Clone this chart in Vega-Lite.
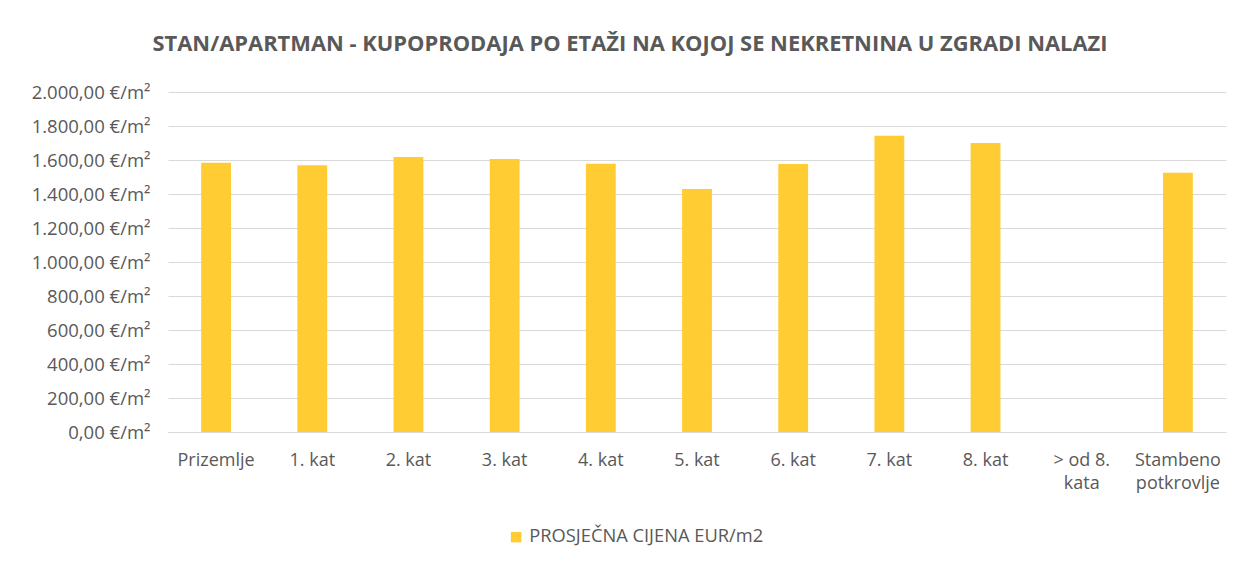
{
  "$schema": "https://vega.github.io/schema/vega-lite/v6.json",
  "width": 1058,
  "height": 340,
  "autosize": {"type": "none"},
  "padding": {"left": 168, "top": 92, "right": 26, "bottom": 136},
  "background": "white",
  "title": {
    "text": "STAN/APARTMAN - KUPOPRODAJA PO ETAŽI NA KOJOJ SE NEKRETNINA U ZGRADI NALAZI",
    "font": "Open Sans",
    "fontSize": 21.9,
    "fontWeight": "bold",
    "color": "#595959",
    "anchor": "middle",
    "dx": -67,
    "offset": 27
  },
  "data": {
    "values": [
      {"kat": "Prizemlje", "cijena": 1584, "serija": "PROSJEČNA CIJENA EUR/m2"},
      {"kat": "1. kat", "cijena": 1569, "serija": "PROSJEČNA CIJENA EUR/m2"},
      {"kat": "2. kat", "cijena": 1618, "serija": "PROSJEČNA CIJENA EUR/m2"},
      {"kat": "3. kat", "cijena": 1606, "serija": "PROSJEČNA CIJENA EUR/m2"},
      {"kat": "4. kat", "cijena": 1578, "serija": "PROSJEČNA CIJENA EUR/m2"},
      {"kat": "5. kat", "cijena": 1429, "serija": "PROSJEČNA CIJENA EUR/m2"},
      {"kat": "6. kat", "cijena": 1576, "serija": "PROSJEČNA CIJENA EUR/m2"},
      {"kat": "7. kat", "cijena": 1743, "serija": "PROSJEČNA CIJENA EUR/m2"},
      {"kat": "8. kat", "cijena": 1700, "serija": "PROSJEČNA CIJENA EUR/m2"},
      {"kat": "> od 8. kata", "cijena": null, "serija": "PROSJEČNA CIJENA EUR/m2"},
      {"kat": "Stambeno potkrovlje", "cijena": 1525, "serija": "PROSJEČNA CIJENA EUR/m2"}
    ]
  },
  "mark": {"type": "bar"},
  "encoding": {
    "x": {
      "field": "kat",
      "type": "nominal",
      "sort": null,
      "scale": {
        "domain": ["Prizemlje", "1. kat", "2. kat", "3. kat", "4. kat", "5. kat", "6. kat", "7. kat", "8. kat", "> od 8. kata", "Stambeno potkrovlje"],
        "paddingInner": 0.69,
        "paddingOuter": 0.345
      },
      "axis": {
        "title": null,
        "labelAngle": 0,
        "ticks": false,
        "domainColor": "#D9D9D9",
        "domainWidth": 1,
        "labelFont": "Open Sans",
        "labelFontSize": 18,
        "labelColor": "#595959",
        "labelPadding": 33,
        "labelBaseline": "alphabetic",
        "labelLineHeight": 23,
        "labelExpr": "datum.value == '> od 8. kata' ? ['> od 8.', 'kata'] : datum.value == 'Stambeno potkrovlje' ? ['Stambeno', 'potkrovlje'] : datum.value"
      }
    },
    "y": {
      "field": "cijena",
      "type": "quantitative",
      "scale": {"domain": [0, 2000]},
      "axis": {
        "title": null,
        "values": [0, 200, 400, 600, 800, 1000, 1200, 1400, 1600, 1800, 2000],
        "ticks": false,
        "domain": false,
        "gridColor": "#D9D9D9",
        "gridWidth": 1,
        "labelFont": "Open Sans",
        "labelFontSize": 18.5,
        "labelColor": "#595959",
        "labelPadding": 18,
        "labelExpr": "replace(replace(replace(format(datum.value, ',.2f'), ',', '#'), '.', ','), '#', '.') + ' €/m²'"
      }
    },
    "color": {
      "field": "serija",
      "type": "nominal",
      "scale": {"range": ["#FFCC33"]},
      "legend": {
        "title": null,
        "orient": "none",
        "legendX": 339,
        "legendY": 436,
        "symbolType": "square",
        "symbolSize": 110,
        "symbolStrokeWidth": 0,
        "labelFont": "Open Sans",
        "labelFontSize": 18.3,
        "labelColor": "#595959",
        "labelOffset": 4,
        "labelLimit": 0
      }
    }
  },
  "config": {
    "view": {"stroke": null}
  }
}
